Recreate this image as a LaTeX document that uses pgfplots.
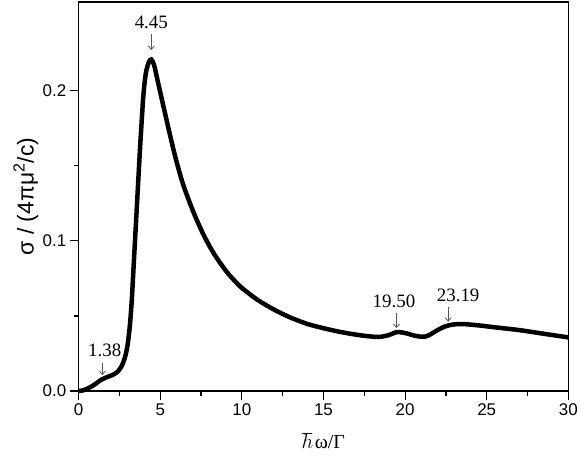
\documentclass[border=0pt]{standalone}
\usepackage{fontspec}
\setmainfont{Liberation Serif}
\setsansfont{Liberation Sans}
\usepackage{pgfplots}
\pgfplotsset{compat=1.18}
\usetikzlibrary{arrows.meta}

\begin{document}
\begin{tikzpicture}
\begin{axis}[
  scale only axis,
  width=489.6bp, height=389bp,
  xmin=0, xmax=30, ymin=0, ymax=0.259,
  xtick={0,5,...,30},
  ytick={0,0.1,0.2},
  minor x tick num=1,
  minor y tick num=1,
  tick align=outside,
  tick pos=left,
  major tick length=9bp,
  minor tick length=4.5bp,
  axis line style={line width=1.2bp},
  every tick/.append style={black, line width=1.2bp},
  /pgf/number format/assume math mode=true,
  ticklabel style={font=\sffamily\fontsize{17}{20}\selectfont},
  yticklabel style={/pgf/number format/.cd, fixed, fixed zerofill, precision=1},
  xticklabel style={/pgf/number format/.cd, fixed, precision=0},
  scaled y ticks=false,
  xlabel={$\hbar$\kern1.5bp ω/Γ},
  ylabel={σ / (4πμ\textsuperscript{2}/c)},
  xlabel style={font=\fontsize{20}{24}\selectfont, at={(axis description cs:0.5,-0.128)}, anchor=center},
  ylabel style={font=\sffamily\fontsize{23}{27}\selectfont, at={(axis description cs:-0.108,0.5)}, anchor=center},
  clip=false,
]
% absorption cross-section spectrum
\addplot[black, line width=4.5bp, smooth, tension=0.5] coordinates {
  (0,0.000) (0.3,0.0005) (0.7,0.0025) (1.0,0.0045) (1.38,0.0075)
  (1.8,0.0095) (2.1,0.0108) (2.4,0.013) (2.65,0.017) (2.85,0.023)
  (3.0,0.031) (3.13,0.043) (3.25,0.060) (3.35,0.080) (3.45,0.100)
  (3.55,0.120) (3.65,0.140) (3.75,0.160) (3.85,0.178) (3.95,0.195)
  (4.05,0.2065) (4.15,0.2136) (4.3,0.2190) (4.45,0.2207) (4.62,0.2170)
  (4.86,0.2055) (5.11,0.1935) (5.33,0.1830) (5.55,0.1726) (5.78,0.1620)
  (6.05,0.1505) (6.39,0.1378) (6.8,0.1255) (7.21,0.1145) (7.72,0.1025)
  (8.3,0.0912) (9.0,0.0803) (9.5,0.0740) (10.0,0.0686) (11.0,0.0604)
  (12.0,0.0540) (13.0,0.0488) (14.0,0.0447) (15.0,0.0418) (16.0,0.0394)
  (17.0,0.0375) (17.8,0.0364) (18.4,0.0360)
  (19.0,0.0372) (19.5,0.0392) (20.0,0.0386)
  (20.6,0.0368) (21.05,0.0361) (21.4,0.0368) (21.9,0.0400) (22.4,0.0428)
  (22.9,0.0442) (23.5,0.0446) (24.5,0.0437) (25.5,0.0424) (26.96,0.0406)
  (28.5,0.0381) (30,0.0357)
};
% peak annotations
\begin{scope}[every node/.style={font=\fontsize{19}{22}\selectfont, inner sep=0pt},
              annot/.style={draw=black!65, line width=0.8bp, -{Straight Barb[length=3.5bp,width=6bp]}}]
  \node at (axis cs:4.45,0.2455) {4.45};
  \draw[annot] (axis cs:4.45,0.238) -- (axis cs:4.45,0.227);
  \node at (axis cs:1.60,0.0273) {1.38};
  \draw[annot] (axis cs:1.45,0.0186) -- (axis cs:1.45,0.0106);
  \node at (axis cs:19.32,0.0594) {19.50};
  \draw[annot] (axis cs:19.47,0.0519) -- (axis cs:19.47,0.0419);
  \node at (axis cs:23.25,0.0639) {23.19};
  \draw[annot] (axis cs:22.64,0.0559) -- (axis cs:22.64,0.0461);
\end{scope}
\end{axis}
\pgfresetboundingbox
\path[use as bounding box] ([xshift=-78.7bp,yshift=-65bp]current axis.south west)
  rectangle ([xshift=12.7bp,yshift=2bp]current axis.north east);
\end{tikzpicture}
\end{document}
